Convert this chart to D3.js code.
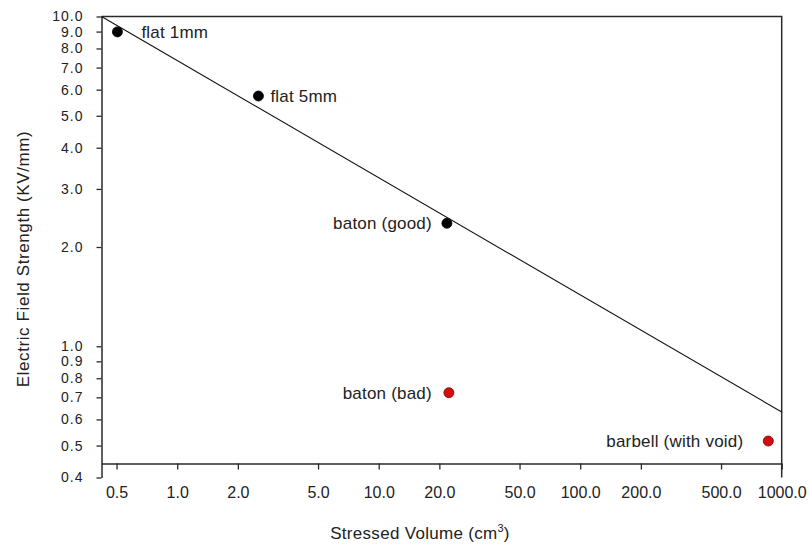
<!DOCTYPE html>
<html>
<head>
<meta charset="utf-8">
<script src="https://cdn.jsdelivr.net/npm/d3@7"></script>
<style>
  body { margin: 0; background: #fff; }
  svg text { font-family: "Liberation Sans", Arial, sans-serif; fill: #222; }
</style>
</head>
<body>
<div class="chart"></div>
<script>
// data
var names = ["flat 1mm", "flat 5mm", "baton (good)", "baton (bad)", "barbell (with void)"];
var volume = [0.505, 2.53, 21.8, 22.3, 858];
var strength = [8.98, 5.74, 2.36, 0.723, 0.516];
var pointType = ["good", "good", "good", "bad", "bad"];

// fitted line end points
var fitVolume = [0.421, 1000];
var fitStrength = [10.0, 0.632];

var xTicks = [0.5, 1, 2, 5, 10, 20, 50, 100, 200, 500, 1000];
var yTicks = [0.4, 0.5, 0.6, 0.7, 0.8, 0.9, 1, 2, 3, 4, 5, 6, 7, 8, 9, 10];

var svgWidth = 809, svgHeight = 545;

var svg = d3.select(".chart")
    .append("svg")
    .attr("width", svgWidth)
    .attr("height", svgHeight);

// scales
var xScale = d3.scaleLog()
    .domain([0.421, 1000])
    .range([101.5, 781.7]);

var yScale = d3.scaleLog()
    .domain([0.4, 10])
    .range([477.5, 16.5]);

var fmt = d3.format(".1f");
var lineColor = "#2a2a2a";

// top and right frame
svg.append("path")
    .attr("d", `M${xScale(0.421)},${yScale(10)}H${xScale(1000)}V${yScale(0.4)}`)
    .attr("fill", "none")
    .attr("stroke", lineColor)
    .attr("stroke-width", 1.5);

// y axis
var yAxis = d3.axisLeft(yScale)
    .tickValues(yTicks)
    .tickFormat(fmt)
    .tickSize(5)
    .tickSizeOuter(0)
    .tickPadding(13);

var yG = svg.append("g")
    .attr("transform", `translate(${xScale(0.421)},0)`)
    .call(yAxis);

// x axis sits a little above the bottom of the y axis
var xAxis = d3.axisBottom(xScale)
    .tickValues(xTicks)
    .tickFormat(fmt)
    .tickSize(6)
    .tickSizeOuter(0)
    .tickPadding(17);

var xG = svg.append("g")
    .attr("transform", `translate(0,${yScale(0.441)})`)
    .call(xAxis);

[xG, yG].forEach(function(g) {
    g.select(".domain").attr("stroke", lineColor).attr("stroke-width", 1.5);
    g.selectAll(".tick line").attr("stroke", lineColor).attr("stroke-width", 1.3);
    g.selectAll(".tick text").attr("fill", "#222");
});
xG.selectAll(".tick text").style("font-size", "16px");
yG.selectAll(".tick text")
    .style("font-size", "14px")
    .style("letter-spacing", "1px");

// fit line
var line = d3.line()
    .x(function(d, i) { return xScale(fitVolume[i]); })
    .y(function(d) { return yScale(d); });

svg.append("path")
    .datum(fitStrength)
    .attr("d", line)
    .attr("fill", "none")
    .attr("stroke", "#111")
    .attr("stroke-width", 1.1);

// points
svg.selectAll("circle.pt")
    .data(strength)
    .enter()
    .append("circle")
    .attr("class", "pt")
    .attr("cx", (d, i) => xScale(volume[i]))
    .attr("cy", d => yScale(d))
    .attr("r", 5)
    .attr("fill", (d, i) => pointType[i] == "bad" ? "#d40d0d" : "#000")
    .attr("stroke", (d, i) => pointType[i] == "bad" ? "#7a0000" : "#000")
    .attr("stroke-width", 0.8);

// point labels: offset from the marker and which side
var labelDx = [24, 12, -15, -17, -25];

svg.selectAll("text.lbl")
    .data(names)
    .enter()
    .append("text")
    .attr("class", "lbl")
    .attr("x", (d, i) => xScale(volume[i]) + labelDx[i])
    .attr("y", (d, i) => yScale(strength[i]) + 6)
    .attr("text-anchor", (d, i) => labelDx[i] < 0 ? "end" : "start")
    .style("font-size", "17px")
    .style("letter-spacing", "0.2px")
    .text(d => d);

// axis titles
var xTitle = svg.append("text")
    .attr("x", 420)
    .attr("y", 539)
    .attr("text-anchor", "middle")
    .style("font-size", "17px")
    .style("letter-spacing", "0.3px");
xTitle.append("tspan").text("Stressed Volume (cm");
xTitle.append("tspan").attr("dy", -7).style("font-size", "11px").text("3");
xTitle.append("tspan").attr("dy", 7).text(")");

svg.append("text")
    .attr("transform", "translate(29,259) rotate(-90)")
    .attr("text-anchor", "middle")
    .style("font-size", "17px")
    .style("letter-spacing", "0.6px")
    .text("Electric Field Strength (KV/mm)");
</script>
</body>
</html>
